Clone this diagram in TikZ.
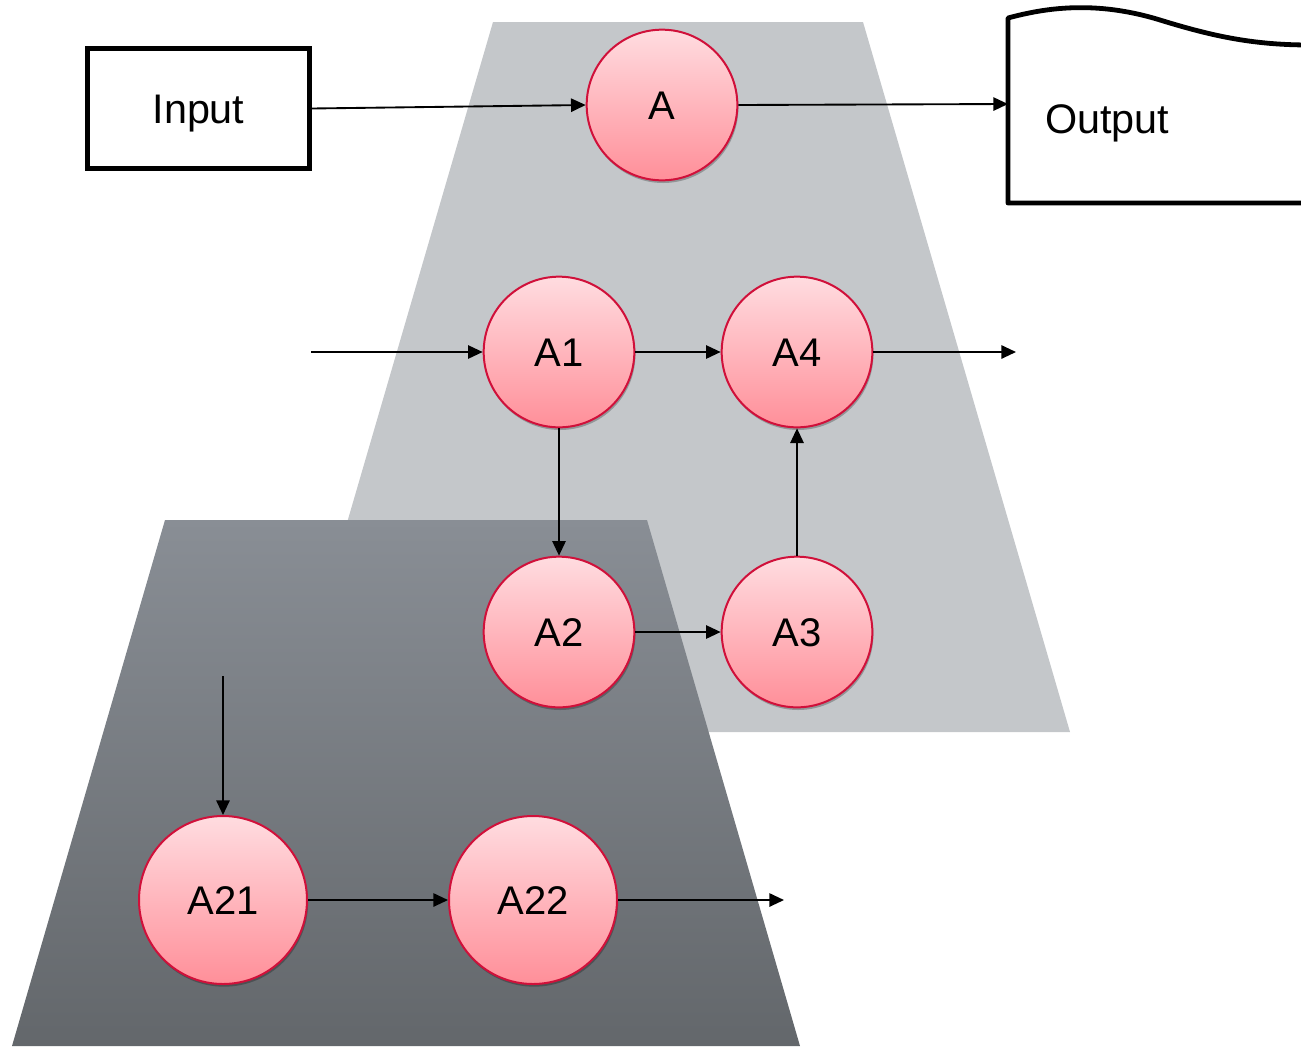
\documentclass[tikz,border=0pt]{standalone}
\usepackage{fontspec}
\setmainfont{Liberation Sans}
\usetikzlibrary{arrows.meta,shadows}
\definecolor{panelLight}{HTML}{C4C7CA}
\definecolor{panelTop}{HTML}{898E95}
\definecolor{panelBot}{HTML}{63676B}
\definecolor{procTop}{HTML}{FFDCE0}
\definecolor{procBot}{HTML}{FF8F99}
\definecolor{procEdge}{HTML}{D0103A}
\tikzset{
  proc/.style={circle, draw=procEdge, line width=1.5pt, inner sep=0pt,
    minimum size=113pt, top color=procTop, bottom color=procBot,
    font=\fontsize{30}{36}\selectfont, text height=21.5pt, text depth=0pt,
    drop shadow={shadow xshift=0.8pt, shadow yshift=-2pt, opacity=0.25, fill=black}},
  bigproc/.style={proc, minimum size=126pt},
  flow/.style={line width=1.4pt, -{Triangle[length=11pt,width=10pt]}},
  frame/.style={draw=black, line width=3.6pt},
  label/.style={font=\fontsize{31}{36}\selectfont, text height=22.2pt, text depth=0pt}
}
\begin{document}
\begin{tikzpicture}[x=0.75pt, y=-0.75pt]
  \useasboundingbox (0,0) rectangle (1301,1046);
  \clip (0,0) rectangle (1301,1046);

  % level-one panel and nested level-two panel
  \fill[panelLight] (493,22) -- (863,22) -- (1070,732) -- (286,732) -- cycle;
  \shade[top color=panelTop, bottom color=panelBot]
    (165,520) -- (647,520) -- (800,1046) -- (12,1046) -- cycle;

  % context level
  \node[frame, minimum width=166pt, minimum height=90pt, inner sep=0pt, label] (input) at (198.5,108.5) {Input};
  \node[proc] (A) at (662,105) {A};
  \draw[frame, line join=round]
    (1310,203) -- (1008,203) -- (1008,18)
    .. controls (1045,8) and (1095,0) .. (1160,20)
    .. controls (1215,37) and (1255,45) .. (1310,45);
  \node[label, anchor=west, inner sep=0pt] (output) at (1045,118.5) {Output};
  \coordinate (outin) at (1008,104);

  % first decomposition
  \node[proc] (A1) at (559,352) {A1};
  \node[proc] (A4) at (797,352) {A4};
  \node[proc] (A2) at (559,632) {A2};
  \node[proc] (A3) at (797,632) {A3};
  \coordinate (a1in) at (311,352);
  \coordinate (a4out) at (1016,352);

  % second decomposition
  \node[bigproc] (A21) at (223,900) {A21};
  \node[bigproc] (A22) at (533,900) {A22};
  \coordinate (a21in) at (223,676);
  \coordinate (a22out) at (784,900);

  % connectors
  \draw[flow] (input.east) -- (A.west);
  \draw[flow] (A.east) -- (outin);
  \draw[flow] (a1in) -- (A1.west);
  \draw[flow] (A1.east) -- (A4.west);
  \draw[flow] (A4.east) -- (a4out);
  \draw[flow] (A1.south) -- (A2.north);
  \draw[flow] (A2.east) -- (A3.west);
  \draw[flow] (A3.north) -- (A4.south);
  \draw[flow] (a21in) -- (A21.north);
  \draw[flow] (A21.east) -- (A22.west);
  \draw[flow] (A22.east) -- (a22out);
\end{tikzpicture}
\end{document}
